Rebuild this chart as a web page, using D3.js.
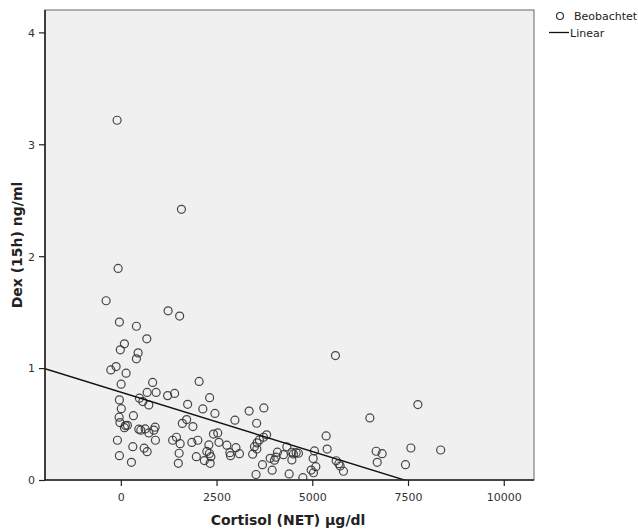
<!DOCTYPE html>
<html><head><meta charset="utf-8">
<script src="https://cdn.jsdelivr.net/npm/d3@7"></script>
<style>body{margin:0;background:#fff;overflow:hidden}svg{display:block}</style>
</head><body>
<script>
// Observed points: Cortisol (NET) µg/dl vs Dex (15h) ng/ml
const cortisol = [-384,-37,407,1235,1536,679,94,-13,452,407,-123,-261,138,8,2045,831,687,922,1222,1405,2319,-37,486,575,731,1745,2142,2458,3351,13,329,-44,-24,120,172,94,1719,1606,1883,2980,3547,470,522,635,731,896,862,2419,2531,-89,904,1353,1452,1549,1855,2011,2299,2562,2769,3006,3490,3558,313,609,687,-37,277,1523,1972,2246,2314,2181,2333,1502,2847,2865,3098,3443,3531,3699,2351,3735,3808,3725,3618,3552,5362,5388,5057,5023,5093,4971,5031,4754,4396,4336,4090,4247,4467,4508,4579,4639,4467,3900,4012,4049,3952,5624,5694,5728,5814,5605,7758,6504,6668,6825,7575,8353,6695,7434,-97,1583,-71];
const dex = [1.602,1.411,1.374,1.512,1.465,1.262,1.217,1.163,1.136,1.083,1.014,0.984,0.955,0.856,0.881,0.872,0.783,0.783,0.754,0.774,0.736,0.716,0.731,0.701,0.671,0.676,0.635,0.595,0.616,0.637,0.575,0.561,0.513,0.486,0.489,0.468,0.540,0.506,0.477,0.535,0.507,0.454,0.445,0.456,0.421,0.472,0.445,0.410,0.421,0.355,0.355,0.355,0.382,0.325,0.336,0.355,0.313,0.337,0.311,0.289,0.298,0.332,0.298,0.284,0.253,0.217,0.158,0.239,0.208,0.255,0.237,0.174,0.149,0.149,0.244,0.217,0.235,0.231,0.049,0.137,0.208,0.644,0.404,0.382,0.358,0.277,0.394,0.276,0.260,0.192,0.119,0.089,0.065,0.021,0.054,0.297,0.249,0.226,0.248,0.233,0.244,0.239,0.179,0.194,0.177,0.204,0.088,0.172,0.146,0.125,0.078,1.112,0.674,0.555,0.257,0.235,0.286,0.268,0.158,0.137,3.215,2.419,1.891];
const xTicks = [0, 2500, 5000, 7500, 10000];
const yTicks = [0, 1, 2, 3, 4];
const xDomain = [-1980, 10790];
const yDomain = [0, 4.2];
const linearFit = {intercept: 0.785, slope: -0.000106};
const legendLabels = ["Beobachtet", "Linear"];
const xTitle = "Cortisol (NET) µg/dl";
const yTitle = "Dex (15h) ng/ml";

const W = 638, H = 531;
const plot = {left: 45, right: 534, top: 10, bottom: 480};
const svg = d3.select("body").append("svg").attr("width", W).attr("height", H)
  .style("font-family", "'DejaVu Sans', sans-serif");

const x = d3.scaleLinear().domain(xDomain).range([plot.left, plot.right]);
const y = d3.scaleLinear().domain(yDomain).range([plot.bottom, plot.top]);

svg.append("rect").attr("x", plot.left).attr("y", plot.top)
  .attr("width", plot.right - plot.left).attr("height", plot.bottom - plot.top)
  .attr("fill", "#f0f0f0").attr("stroke", "#666").attr("stroke-width", 1);

svg.append("defs").append("clipPath").attr("id", "clip").append("rect")
  .attr("x", plot.left).attr("y", plot.top)
  .attr("width", plot.right - plot.left).attr("height", plot.bottom - plot.top);

// points
const pts = cortisol.map((c, i) => ({c, d: dex[i]}));
svg.append("g").attr("clip-path", "url(#clip)").selectAll("circle").data(pts).join("circle")
  .attr("cx", p => x(p.c)).attr("cy", p => y(p.d)).attr("r", 4)
  .attr("fill", "none").attr("stroke", "#333").attr("stroke-width", 1.2).attr("stroke-opacity", 0.9);

// linear fit
const fitLine = d3.line().x(v => x(v)).y(v => y(linearFit.intercept + linearFit.slope * v));
svg.append("path").attr("clip-path", "url(#clip)").datum(xDomain)
  .attr("d", fitLine).attr("fill", "none").attr("stroke", "#111").attr("stroke-width", 1.4);

// axes
const xAxis = d3.axisBottom(x).tickValues(xTicks).tickSize(6).tickSizeOuter(0).tickFormat(d3.format("d"));
const gx = svg.append("g").attr("transform", `translate(0,${plot.bottom})`).call(xAxis);
const yAxis = d3.axisLeft(y).tickValues(yTicks).tickSize(6).tickSizeOuter(0).tickFormat(d3.format("d"));
const gy = svg.append("g").attr("transform", `translate(${plot.left},0)`).call(yAxis);
[gx, gy].forEach(g => {
  g.select(".domain").attr("stroke", "#222").attr("stroke-width", 1.6);
  g.selectAll(".tick line").attr("stroke", "#222").attr("stroke-width", 1.2);
  g.selectAll(".tick text").attr("fill", "#333").style("font-size", "11px")
    .style("font-family", "'DejaVu Sans', sans-serif");
});
gx.selectAll(".tick text").attr("dy", "1.1em");
gy.selectAll(".tick text").attr("dx", "-1px").attr("dy", "0.35em");
gx.select(".domain").attr("d", `M${plot.left},0H${plot.right}`);
gy.select(".domain").attr("d", `M0,${plot.bottom}V${plot.top}`);

// titles
svg.append("text").attr("x", 288).attr("y", 525)
  .attr("text-anchor", "middle").attr("font-weight", "bold").attr("font-size", 14).attr("fill", "#222")
  .text(xTitle);
svg.append("text").attr("transform", `translate(22,${(plot.top + plot.bottom) / 2}) rotate(-90)`)
  .attr("text-anchor", "middle").attr("font-weight", "bold").attr("font-size", 14).attr("fill", "#222")
  .text(yTitle);

// legend
const lg = svg.append("g");
lg.append("circle").attr("cx", 560).attr("cy", 16).attr("r", 3.5)
  .attr("fill", "none").attr("stroke", "#333").attr("stroke-width", 1.2);
lg.append("text").attr("x", 574).attr("y", 20).attr("font-size", 11).attr("fill", "#222").text(legendLabels[0]);
lg.append("line").attr("x1", 549).attr("x2", 569).attr("y1", 32.5).attr("y2", 32.5)
  .attr("stroke", "#111").attr("stroke-width", 1.3);
lg.append("text").attr("x", 570).attr("y", 36.5).attr("font-size", 11).attr("fill", "#222").text(legendLabels[1]);
</script>
</body></html>
